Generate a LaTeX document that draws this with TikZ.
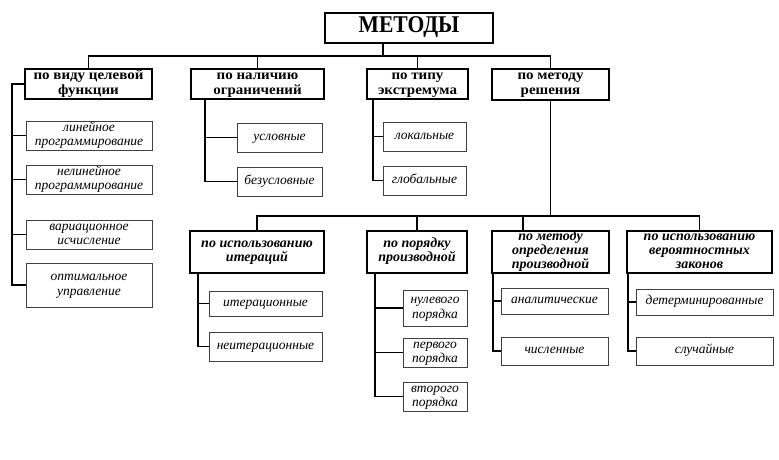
\documentclass[tikz,border=0pt]{standalone}
\usepackage{fontspec}
\setmainfont{Liberation Serif}
\newfontfamily\headfont[FakeStretch=1.07]{Liberation Serif}
\usetikzlibrary{calc}
\newcommand\lns[1]{\begin{tabular}{@{}c@{}}#1\end{tabular}}
\newcommand\bx[7]{%
  \pgfmathsetmacro\bxcx{(#2+#4)/2}\pgfmathsetmacro\bxcy{(#3+#5)/2}%
  \pgfmathsetmacro\bxw{#4-#2}\pgfmathsetmacro\bxh{#5-#3}%
  \node[#6, minimum width=\bxw pt, minimum height=\bxh pt] (#1) at (\bxcx,\bxcy) {\lns{#7}};}
\begin{document}
\begin{tikzpicture}[x=1pt,y=-1pt,
  top/.style={draw, line width=2pt, inner sep=0pt, outer sep=0pt, font=\bfseries\fontsize{24}{24}\selectfont},
  head/.style={draw, line width=2pt, inner sep=0pt, outer sep=0pt, font=\headfont\bfseries\fontsize{14}{15}\selectfont},
  sub/.style={draw, line width=2pt, inner sep=0pt, outer sep=0pt, font=\bfseries\itshape\fontsize{14}{14}\selectfont},
  leaf/.style={draw=black!75, line width=1pt, inner sep=0pt, outer sep=0pt, font=\itshape\fontsize{13.5}{14.5}\selectfont},
  conn/.style={line width=1.8pt}]
\useasboundingbox (0,0) rectangle (779,460);
% top
\bx{M}{325}{13}{493}{43}{top}{\scalebox{0.9}[1]{МЕТОДЫ}}
\bx{h1}{25}{69}{152}{99}{head}{по виду целевой\\функции}
\bx{h2}{191}{69}{324}{99}{head}{по наличию\\ограничений}
\bx{h3}{367}{69}{468}{99}{head}{по типу\\экстремума}
\bx{h4}{492}{70}{609}{99}{head}{по методу\\решения}
% leaves of h1
\bx{c11}{26}{121}{152}{150}{leaf}{линейное\\программирование}
\bx{c12}{26}{165}{152}{194}{leaf}{нелинейное\\программирование}
\bx{c13}{26}{220}{152}{249}{leaf}{вариационное\\исчисление}
\bx{c14}{26}{263}{152}{307}{leaf}{оптимальное\\управление}
% leaves of h2
\bx{c21}{237}{123}{322}{152}{leaf}{условные}
\bx{c22}{237}{167}{322}{196}{leaf}{безусловные}
% leaves of h3
\bx{c31}{383}{122}{466}{151}{leaf}{локальные}
\bx{c32}{383}{166}{466}{195}{leaf}{глобальные}
% second level
\bx{h5}{190}{231}{324}{273}{sub}{по использованию\\итераций}
\bx{h6}{367}{231}{467}{273}{sub}{по порядку\\производной}
\bx{h7}{492}{231}{609}{273}{sub}{по методу\\определения\\производной}
\bx{h8}{627}{231}{772}{273}{sub}{по использованию\\вероятностных\\законов}
% leaves second level
\bx{c51}{209}{291}{322}{316}{leaf}{итерационные}
\bx{c52}{209}{332}{322}{361}{leaf}{неитерационные}
\bx{c61}{403}{290}{467}{326}{leaf}{нулевого\\порядка}
\bx{c62}{403}{338}{467}{367}{leaf}{первого\\порядка}
\bx{c63}{403}{382}{467}{411}{leaf}{второго\\порядка}
\bx{c71}{501}{288}{608}{314}{leaf}{аналитические}
\bx{c72}{501}{337}{608}{365}{leaf}{численные}
\bx{c81}{636}{289}{773}{315}{leaf}{детерминированные}
\bx{c82}{636}{337}{773}{365}{leaf}{случайные}
% connectors top
\coordinate (s0) at (383,56);
\draw[conn] (s0) -- (s0 |- M.south);
\draw[conn] (h1.north) |- (h4.north |- s0) -- (h4.north);
\draw[conn] (h2.north) -- (h2.north |- s0);
\draw[conn] (h3.north) -- (h3.north |- s0);
% h1 children
\draw[conn] (h1.west) -- ++(-13,0) |- (c14.west);
\draw[conn] (c11.west) -- ++(-14,0);
\draw[conn] (c12.west) -- ++(-14,0);
\draw[conn] (c13.west) -- ++(-14,0);
% h2 children
\draw[conn] ($(h2.south west)+(14,0)$) |- (c22.west);
\draw[conn] (c21.west) -- ++(-32,0);
% h3 children
\draw[conn] ($(h3.south west)+(6,0)$) |- (c32.west);
\draw[conn] (c31.west) -- ++(-10,0);
% second bus
\coordinate (b2) at (257,216);
\coordinate (d7) at (523,216);
\draw[conn] (h4.south) -- (h4.south |- b2);
\draw[conn] (h5.north) |- (h8.north |- b2) -- (h8.north);
\draw[conn] (h6.north) -- (h6.north |- b2);
\draw[conn] (d7) -- (d7 |- h7.north);
% h5 children
\draw[conn] ($(h5.south west)+(8,0)$) |- (c52.west);
\draw[conn] (c51.west) -- ++(-11,0);
% h6 children
\draw[conn] ($(h6.south west)+(8,0)$) |- (c63.west);
\draw[conn] (c61.west) -- ++(-28,0);
\draw[conn] (c62.west) -- ++(-28,0);
% h7 children
\draw[conn] ($(h7.south west)+(1,0)$) |- (c72.west);
\draw[conn] (c71.west) -- ++(-9,0);
% h8 children
\draw[conn] ($(h8.south west)+(1,0)$) |- (c82.west);
\draw[conn] (c81.west) -- ++(-8,0);
\end{tikzpicture}
\end{document}
